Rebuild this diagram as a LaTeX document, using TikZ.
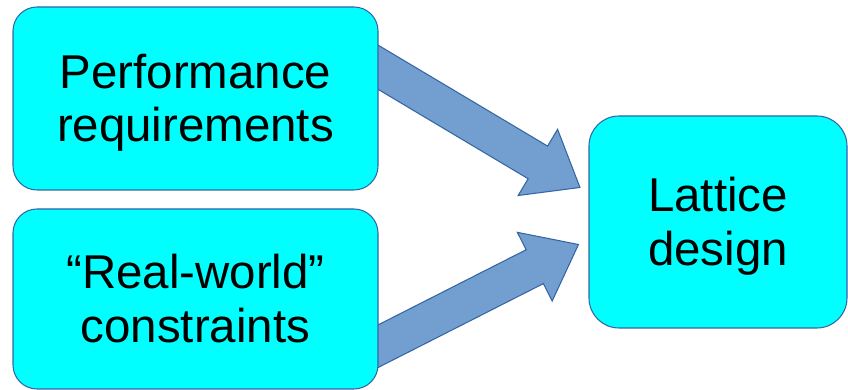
\documentclass[tikz,border=0pt]{standalone}
\usepackage{fontspec}
\setmainfont{Liberation Sans}
\usepackage{tikz}
\usetikzlibrary{calc,backgrounds}
\definecolor{boxfill}{HTML}{00FFFF}
\definecolor{edge}{HTML}{3465A4}
\definecolor{arrowfill}{HTML}{729FCF}
\newcommand{\lstrut}{\rule[-0.212em]{0pt}{1.117em}}
\tikzset{
  box/.style={draw=edge, fill=boxfill, line width=0.6pt, rounded corners=0.48cm,
    align=center, inner sep=0pt, font=\fontsize{27}{30.6}\selectfont},
  fatarrow/.style={draw=edge, fill=arrowfill, line width=0.6pt, line join=miter}
}

\begin{document}
\begin{tikzpicture}
  \useasboundingbox (0,0) rectangle (16.96,7.8);

  \node[box, minimum width=7.3cm, minimum height=3.66cm] (perf) at (3.91,5.83)
    {\lstrut Performance\\\lstrut requirements};
  \node[box, minimum width=7.3cm, minimum height=3.6cm] (real) at (3.91,1.82)
    {\lstrut “Real-world”\\\lstrut constraints};
  \node[box, minimum width=5.16cm, minimum height=4.24cm, rounded corners=0.6cm] (lattice) at (14.36,3.36)
    {\lstrut Lattice\\\lstrut design};

  \coordinate (s1) at ($(perf.east)+(0,0.62)$);
  \coordinate (t1) at ($(lattice.west)+(-0.17,0.69)$);
  \coordinate (e1) at ($(s1)!-0.3cm!(t1)$);
  \coordinate (b1) at ($(t1)!0.98cm!(s1)$);
  \coordinate (s2) at ($(real.east)+(0,-0.94)$);
  \coordinate (t2) at ($(lattice.west)+(-0.2,-0.45)$);
  \coordinate (e2) at ($(s2)!-0.3cm!(t2)$);
  \coordinate (b2) at ($(t2)!0.98cm!(s2)$);

  \begin{pgfonlayer}{background}
    \draw[fatarrow] ($(e1)!0.38cm!90:(t1)$) -- ($(b1)!0.38cm!90:(t1)$) -- ($(b1)!0.77cm!90:(t1)$)
      -- (t1) -- ($(b1)!0.77cm!-90:(t1)$) -- ($(b1)!0.38cm!-90:(t1)$) -- ($(e1)!0.38cm!-90:(t1)$) -- cycle;
    \draw[fatarrow] ($(e2)!0.38cm!90:(t2)$) -- ($(b2)!0.38cm!90:(t2)$) -- ($(b2)!0.77cm!90:(t2)$)
      -- (t2) -- ($(b2)!0.77cm!-90:(t2)$) -- ($(b2)!0.38cm!-90:(t2)$) -- ($(e2)!0.38cm!-90:(t2)$) -- cycle;
  \end{pgfonlayer}
\end{tikzpicture}
\end{document}
